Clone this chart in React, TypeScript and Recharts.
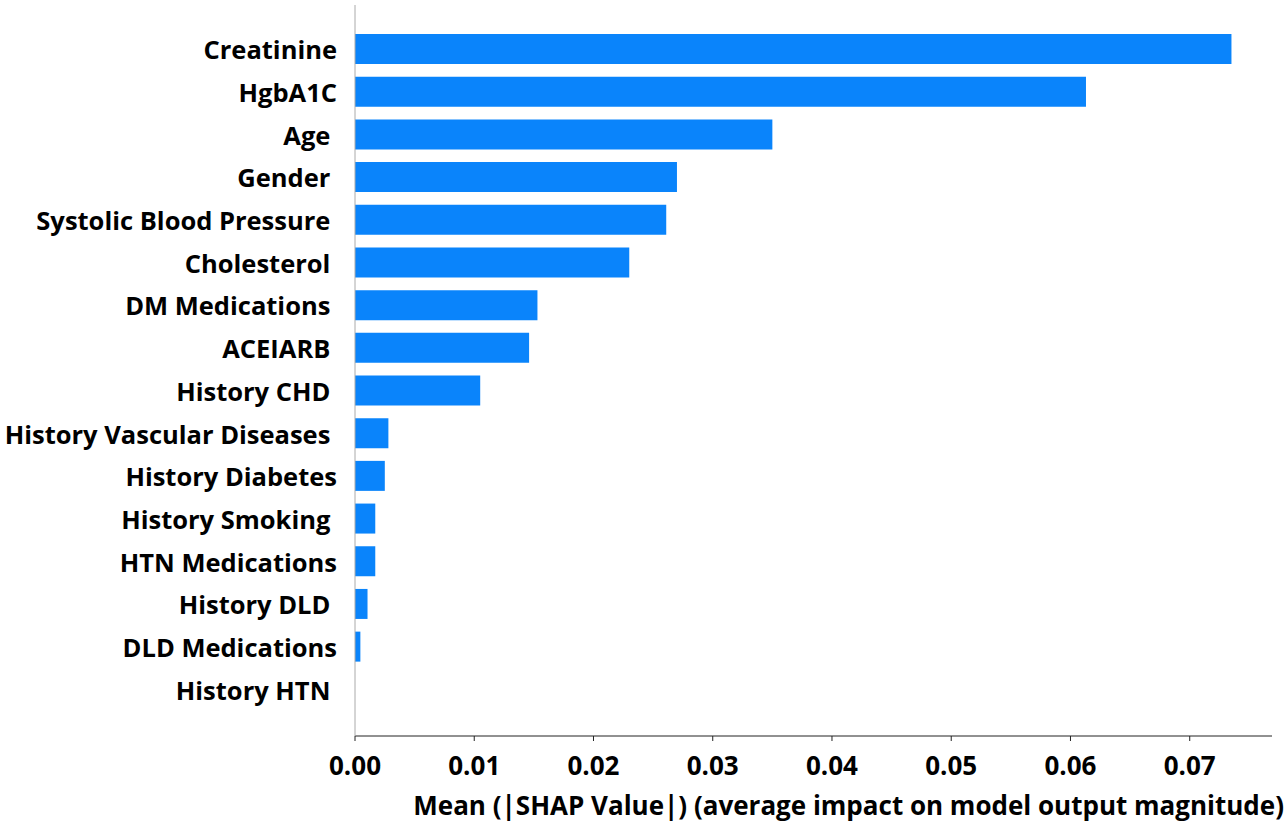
import { BarChart, Bar, XAxis, YAxis } from 'recharts';

const features = [
  'Creatinine',
  'HgbA1C',
  'Age ',
  'Gender ',
  'Systolic Blood Pressure ',
  'Cholesterol ',
  'DM Medications ',
  'ACEIARB ',
  'History CHD ',
  'History Vascular Diseases ',
  'History Diabetes',
  'History Smoking ',
  'HTN Medications',
  'History DLD ',
  'DLD Medications',
  'History HTN ',
];

const shapValues = [
  0.0735, 0.0613, 0.035, 0.027, 0.0261, 0.023, 0.0153, 0.0146, 0.0105, 0.0028, 0.0025,
  0.0017, 0.0017, 0.00105, 0.00045, 0,
];

const xTicks = [0, 0.01, 0.02, 0.03, 0.04, 0.05, 0.06, 0.07];

const data = features.map((name, i) => ({ name, value: shapValues[i] }));

const FONT = '"Open Sans", Lato, sans-serif';

const FeatureTick = ({ x, y, payload }: any) => (
  <text
    x={x - 10}
    y={y}
    textAnchor="end"
    dominantBaseline="central"
    fontFamily={FONT}
    fontWeight={700}
    fontSize={25.5}
    fill="#000"
    style={{ whiteSpace: 'pre' }}
  >
    {payload.value}
  </text>
);

const ValueTick = ({ x, y, payload }: any) => (
  <text
    x={x}
    y={y + 22}
    textAnchor="middle"
    dominantBaseline="central"
    fontFamily={FONT}
    fontWeight={700}
    fontSize={26}
    fill="#000"
  >
    {payload.value.toFixed(2)}
  </text>
);

const App = () => {
  return (
    <div style={{ position: 'absolute', left: 0, top: 0, background: '#fff' }}>
      <BarChart
        width={1288}
        height={829}
        data={data}
        layout="vertical"
        margin={{ top: 5, right: 16, left: 0, bottom: 0 }}
      >
        <XAxis
          type="number"
          domain={[0, 0.0769]}
          ticks={xTicks}
          allowDataOverflow
          height={93}
          tickSize={5}
          stroke="#222"
          tick={<ValueTick />}
          label={{
            value: 'Mean (|SHAP Value|) (average impact on model output magnitude)',
            position: 'insideBottomRight',
            offset: 14,
            dx: 26,
            fontFamily: FONT,
            fontWeight: 700,
            fontSize: 26,
            fill: '#000',
          }}
        />
        <YAxis
          type="category"
          dataKey="name"
          width={355}
          stroke="#aaa"
          tickLine={false}
          interval={0}
          padding={{ top: 23, bottom: 25 }}
          tick={<FeatureTick />}
        />
        <Bar dataKey="value" fill="#0a84fb" barSize={30} isAnimationActive={false} />
      </BarChart>
    </div>
  );
};

export default App;
